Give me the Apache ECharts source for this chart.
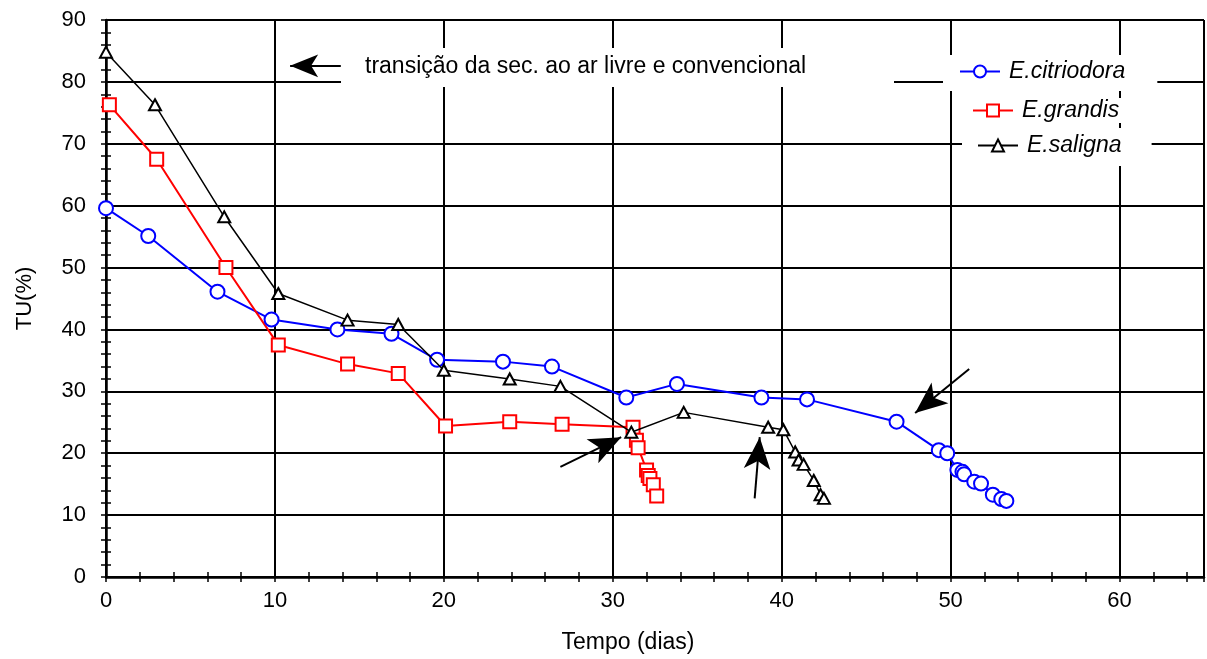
<!DOCTYPE html>
<html>
<head>
<meta charset="utf-8">
<title>TU x Tempo</title>
<script src="https://cdn.jsdelivr.net/npm/echarts@6/dist/echarts.min.js"></script>
<style>
  html, body { margin: 0; padding: 0; background: #fff; }
  #container { width: 1207px; height: 659px; }
</style>
</head>
<body>
<div id="container"></div>
<script>
// tempo (dias) e TU(%) de cada especie
var tempoCitriodora = [0, 2.5, 6.6, 9.8, 13.7, 16.9, 19.6, 23.5, 26.4, 30.8, 33.8, 38.8, 41.5, 46.8, 49.3, 49.8, 50.4, 50.7, 50.8, 51.4, 51.8, 52.5, 53.0, 53.3];
var tuCitriodora = [59.6, 55.1, 46.1, 41.6, 40.0, 39.3, 35.1, 34.8, 34.0, 29.0, 31.2, 29.0, 28.7, 25.1, 20.5, 20.0, 17.3, 17.0, 16.6, 15.4, 15.1, 13.3, 12.6, 12.3];

var tempoGrandis = [0.2, 3.0, 7.1, 10.2, 14.3, 17.3, 20.1, 23.9, 27.0, 31.2, 31.4, 31.5, 32.0, 32.1, 32.2, 32.4, 32.6];
var tuGrandis = [76.3, 67.5, 50.0, 37.5, 34.4, 32.9, 24.4, 25.1, 24.7, 24.2, 22.1, 20.9, 17.3, 16.4, 15.9, 14.9, 13.1];

var tempoSaligna = [0, 2.9, 7.0, 10.2, 14.3, 17.3, 20.0, 23.9, 26.9, 31.1, 34.2, 39.2, 40.1, 40.8, 41.0, 41.3, 41.9, 42.3, 42.5];
var tuSaligna = [84.8, 76.3, 58.2, 45.8, 41.5, 40.8, 33.4, 32.0, 30.8, 23.4, 26.6, 24.2, 23.8, 20.2, 18.9, 18.2, 15.6, 13.3, 12.7];

var xTicks = [0, 10, 20, 30, 40, 50, 60];
var yTicks = [0, 10, 20, 30, 40, 50, 60, 70, 80, 90];

var nota = 'transição da sec. ao ar livre e convencional';

function pares(xs, ys) {
  var out = [];
  for (var i = 0; i < xs.length; i++) {
    out.push([xs[i], ys[i]]);
  }
  return out;
}

var fonte = '"Liberation Sans", Arial, sans-serif';

var myChart = echarts.init(document.getElementById('container'));

// eixo so de ticks pequenos (de 2 em 2), voltados para dentro
function eixoTicks(pos, max, linha) {
  return {
    type: 'value', position: pos, min: 0, max: max, interval: 2,
    axisLine: { show: linha, lineStyle: { color: '#000', width: 2 } },
    axisTick: { show: true, inside: true, length: 5, lineStyle: { color: '#000', width: 1.5 } },
    axisLabel: { show: false },
    splitLine: { show: false }
  };
}

var legendaTexto = { fontSize: 23, fontStyle: 'italic', color: '#000', padding: [0, 0, 0, 4] };

var option = {
  animation: false,
  backgroundColor: '#fff',
  textStyle: { fontFamily: fonte },
  grid: { left: 106, right: 3, top: 20, bottom: 78, containLabel: false },
  xAxis: [{
    type: 'value',
    position: 'bottom',
    min: 0,
    max: 65,
    interval: 10,
    name: 'Tempo (dias)',
    nameLocation: 'middle',
    nameGap: 54,
    nameTextStyle: { fontSize: 23, color: '#000', padding: [0, 54, 0, 0] },
    axisLine: { show: true, lineStyle: { color: '#000', width: 2.5 } },
    axisTick: { show: false },
    axisLabel: {
      fontSize: 22, color: '#000', margin: 13, showMaxLabel: false,
      formatter: function (v) { return xTicks.indexOf(v) >= 0 ? String(v) : ''; }
    },
    splitLine: { show: true, lineStyle: { color: '#000', width: 2 } }
  }, eixoTicks('bottom', 65, false), eixoTicks('top', 65, true)],
  yAxis: [{
    type: 'value',
    position: 'left',
    min: 0,
    max: 90,
    interval: 10,
    name: 'TU(%)',
    nameLocation: 'middle',
    nameRotate: 90,
    nameGap: 70,
    nameTextStyle: { fontSize: 22, color: '#000' },
    axisLine: { show: true, lineStyle: { color: '#000', width: 2.5 } },
    axisTick: { show: false },
    axisLabel: {
      fontSize: 22, color: '#000', margin: 20,
      formatter: function (v) { return yTicks.indexOf(v) >= 0 ? String(v) : ''; }
    },
    splitLine: { show: true, lineStyle: { color: '#000', width: 2 } }
  }, eixoTicks('left', 90, false), eixoTicks('right', 90, true)],
  legend: [{
    data: ['E.citriodora'],
    left: 943, top: 55,
    padding: [5, 32, 8, 16],
    backgroundColor: '#fff',
    itemWidth: 40, itemHeight: 15,
    textStyle: legendaTexto
  }, {
    data: ['E.grandis'],
    left: 957, top: 98,
    padding: [1, 10, 1, 15],
    backgroundColor: '#fff',
    itemWidth: 40, itemHeight: 15,
    textStyle: legendaTexto
  }, {
    data: ['E.saligna'],
    left: 962, top: 128,
    padding: [6, 30, 9, 15],
    backgroundColor: '#fff',
    itemWidth: 40, itemHeight: 15,
    textStyle: legendaTexto
  }],
  graphic: [{
    type: 'rect',
    z: 5,
    shape: { x: 341, y: 48, width: 553, height: 39 },
    style: { fill: '#fff' }
  }, {
    type: 'text',
    z: 6,
    x: 365,
    y: 67,
    style: { text: nota, font: '23px ' + fonte, fill: '#000', verticalAlign: 'middle' }
  }],
  series: [{
    name: 'E.citriodora',
    type: 'line',
    data: pares(tempoCitriodora, tuCitriodora),
    symbol: 'emptyCircle',
    symbolSize: 14,
    lineStyle: { color: '#0000ff', width: 2 },
    itemStyle: { color: '#0000ff', borderWidth: 2 },
    z: 3
  }, {
    name: 'E.grandis',
    type: 'line',
    data: pares(tempoGrandis, tuGrandis),
    symbol: 'emptyRect',
    symbolSize: 13,
    lineStyle: { color: '#ff0000', width: 2 },
    itemStyle: { color: '#ff0000', borderWidth: 2 },
    z: 3
  }, {
    name: 'E.saligna',
    type: 'line',
    data: pares(tempoSaligna, tuSaligna),
    symbol: 'emptyTriangle',
    symbolSize: [12, 11],
    lineStyle: { color: '#000', width: 1.5 },
    itemStyle: { color: '#000', borderWidth: 2 },
    z: 4
  }, {
    // setas de anotacao
    name: 'setas',
    type: 'line',
    data: [],
    markLine: {
      silent: true,
      symbol: ['none', 'arrow'],
      label: { show: false },
      lineStyle: { color: '#000', width: 2, type: 'solid' },
      data: [
        [{ coord: [13.9, 82.6], symbolSize: [17, 28] }, { coord: [10.9, 82.6], symbolSize: [17, 28] }],
        [{ coord: [26.9, 17.8], symbolSize: [20, 32] }, { coord: [30.5, 22.6], symbolSize: [20, 32] }],
        [{ coord: [38.4, 12.7], symbolSize: [20, 32] }, { coord: [38.7, 22.6], symbolSize: [20, 32] }],
        [{ coord: [51.1, 33.6], symbolSize: [20, 32] }, { coord: [47.9, 26.5], symbolSize: [20, 32] }]
      ]
    }
  }]
};

myChart.setOption(option);
</script>
</body>
</html>
